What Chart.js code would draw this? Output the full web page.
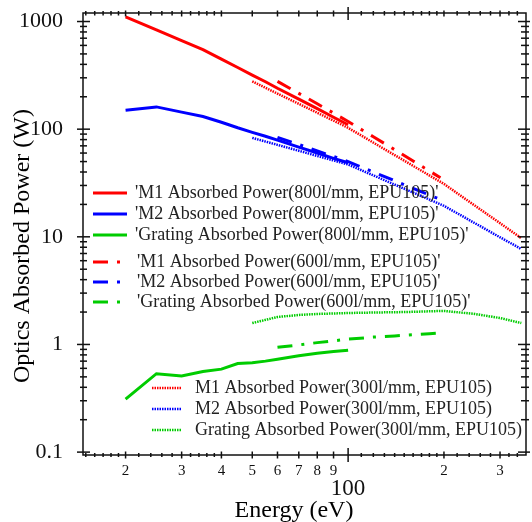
<!DOCTYPE html>
<html>
<head>
<meta charset="utf-8">
<script src="https://cdn.jsdelivr.net/npm/chart.js@4.4.1/dist/chart.umd.min.js"></script>
<style>
  html, body { margin: 0; padding: 0; background: #fff; }
  #wrap { width: 532px; height: 522px; position: relative; }
</style>
</head>
<body>
<div id="wrap"><canvas id="power-chart"></canvas></div>
<script>
// photon energies (eV) for each grating run
const energy800 = [20, 25, 30, 35, 40, 45, 50, 55, 60, 70, 80, 90, 100];
const energy600 = [60, 70, 80, 90, 100, 120, 140, 160, 180, 195];
const energy300 = [50, 60, 70, 80, 90, 100, 120, 150, 200, 250, 300, 350];

// absorbed power (W), 800 l/mm
const m1Power800 = [1106, 837, 666, 549, 447, 374, 318, 276, 240, 190, 155, 129, 110];
const m2Power800 = [150, 161, 144, 131, 116, 103, 93.5, 86, 79, 68, 60, 53.6, 48.8];
const gratingPower800 = [0.31, 0.535, 0.51, 0.56, 0.59, 0.665, 0.675, 0.70, 0.73, 0.785, 0.83, 0.86, 0.885];

// absorbed power (W), 600 l/mm
const m1Power600 = [278, 215, 172, 141, 118, 85, 64.5, 50.6, 40.9, 35.4];
const m2Power600 = [84, 72, 62.8, 55.8, 50, 40, 33.2, 28.2, 24.4, 22.2];
const gratingPower600 = [0.94, 0.99, 1.04, 1.08, 1.12, 1.17, 1.20, 1.23, 1.26, 1.28];

// absorbed power (W), 300 l/mm
const m1Power300 = [278, 214, 172, 142, 120, 103, 75, 51, 31, 19.5, 13.4, 9.7];
const m2Power300 = [83, 71.5, 63, 56.4, 51.2, 47, 37.2, 28, 19.4, 13.4, 9.9, 7.7];
const gratingPower300 = [1.58, 1.80, 1.88, 1.92, 1.94, 1.96, 1.98, 2.0, 2.05, 1.92, 1.76, 1.58];

// labelled axis ticks
const energyTicks = [20, 30, 40, 50, 60, 70, 80, 90, 100, 200, 300];
const powerTicks = [0.1, 1, 10, 100, 1000];

const SERIF = '"Liberation Serif", "Times New Roman", serif';
const RED = '#ff0000', BLUE = '#0000ff', GREEN = '#00cc00';
const SOLID = [], DASHDOT = [15, 9, 3, 9], DOTTED = [1.5, 1];

function pairs(xs, ys) {
    return xs.map((x, i) => ({ x, y: ys[i] }));
}

function series(label, xs, ys, color, dash, width) {
    return {
        label,
        data: pairs(xs, ys),
        borderColor: color,
        backgroundColor: color,
        borderDash: dash,
        borderWidth: width,
        borderCapStyle: 'butt',
        pointRadius: 0,
        tension: 0,
        fill: false
    };
}

const datasets = [
    series("'M1 Absorbed Power(800l/mm, EPU105)'", energy800, m1Power800, RED, SOLID, 3),
    series("'M2 Absorbed Power(800l/mm, EPU105)'", energy800, m2Power800, BLUE, SOLID, 3),
    series("'Grating Absorbed Power(800l/mm, EPU105)'", energy800, gratingPower800, GREEN, SOLID, 3),
    series("'M1 Absorbed Power(600l/mm, EPU105)'", energy600, m1Power600, RED, DASHDOT, 3),
    series("'M2 Absorbed Power(600l/mm, EPU105)'", energy600, m2Power600, BLUE, DASHDOT, 3),
    series("'Grating Absorbed Power(600l/mm, EPU105)'", energy600, gratingPower600, GREEN, DASHDOT, 3),
    series('M1 Absorbed Power(300l/mm, EPU105)', energy300, m1Power300, RED, DOTTED, 2.5),
    series('M2 Absorbed Power(300l/mm, EPU105)', energy300, m2Power300, BLUE, DOTTED, 2.5),
    series('Grating Absorbed Power(300l/mm, EPU105)', energy300, gratingPower300, GREEN, DOTTED, 2.5)
];

// minor tick positions on both axes
const energyMinor = [15, 16, 17, 18, 19, 22, 24, 26, 28, 32, 34, 36, 38,
    110, 120, 130, 140, 150, 160, 170, 180, 190, 220, 240, 260, 280, 320, 340];
const powerMinor = [];
[0.1, 1, 10, 100].forEach(d => {
    for (let k = 2; k <= 9; k++) powerMinor.push(d * k);
});

// boxed frame with ticks on all four sides, plus axis titles
const framePlugin = {
    id: 'frame',
    afterDraw(chart) {
        const { ctx, chartArea: a } = chart;
        const xs = chart.scales.x, ys = chart.scales.y;
        ctx.save();
        ctx.strokeStyle = '#111';
        ctx.lineWidth = 1.5;
        ctx.setLineDash([]);
        ctx.strokeRect(a.left, a.top, a.right - a.left, a.bottom - a.top);

        const seg = (x1, y1, x2, y2) => {
            ctx.beginPath();
            ctx.moveTo(x1, y1);
            ctx.lineTo(x2, y2);
            ctx.stroke();
        };

        energyMinor.forEach(v => {
            const px = xs.getPixelForValue(v);
            seg(px, a.bottom - 2, px, a.bottom + 2);
            seg(px, a.top - 2, px, a.top + 2.5);
        });
        energyTicks.forEach(v => {
            const px = xs.getPixelForValue(v);
            const h = v === 100 ? 7 : 3.5;
            seg(px, a.bottom - h, px, a.bottom + h);
            seg(px, a.top - h + 1, px, a.top + h);
        });

        powerMinor.forEach(v => {
            const py = ys.getPixelForValue(v);
            if (py < a.top || py > a.bottom) return;
            seg(a.left - 3, py, a.left + 4, py);
            seg(a.right - 5, py, a.right + 3, py);
        });
        powerTicks.forEach(v => {
            const py = ys.getPixelForValue(v);
            seg(a.left - 6, py, a.left + 7, py);
            seg(a.right - 8, py, a.right + 4, py);
        });

        ctx.fillStyle = '#000';
        ctx.font = '24px ' + SERIF;
        ctx.textAlign = 'center';
        ctx.textBaseline = 'alphabetic';
        ctx.fillText('Energy (eV)', 294, 517);

        ctx.translate(29, 246);
        ctx.rotate(-Math.PI / 2);
        ctx.fillText('Optics Absorbed Power (W)', 0, 0);
        ctx.restore();
    }
};

// three legend blocks drawn inside the plot
const legendGroups = [
    { first: 0, x1: 93, x2: 127, textX: 135, rows: [193, 214, 235] },
    { first: 3, x1: 93, x2: 121, textX: 137, rows: [262, 282, 302] },
    { first: 6, x1: 152, x2: 182, textX: 195, rows: [388, 409, 430] }
];

const legendPlugin = {
    id: 'groupLegend',
    afterDraw(chart) {
        const ctx = chart.ctx;
        ctx.save();
        ctx.font = '18px ' + SERIF;
        ctx.textBaseline = 'middle';
        ctx.textAlign = 'left';
        legendGroups.forEach(g => {
            g.rows.forEach((y, i) => {
                const ds = chart.data.datasets[g.first + i];
                ctx.strokeStyle = ds.borderColor;
                ctx.lineWidth = ds.borderWidth;
                ctx.lineCap = 'butt';
                ctx.setLineDash(ds.borderDash);
                ctx.beginPath();
                ctx.moveTo(g.x1, y);
                ctx.lineTo(g.x2, y);
                ctx.stroke();
                ctx.setLineDash([]);
                ctx.fillStyle = '#222';
                ctx.fillText(ds.label, g.textX, y);
            });
        });
        ctx.restore();
    }
};

function decadeLabel(v) {
    if (v === 100) return '100';
    const exp = Math.floor(Math.log10(v) + 1e-9);
    return String(Math.round(v / Math.pow(10, exp)));
}

new Chart(document.getElementById('power-chart').getContext('2d'), {
    type: 'line',
    data: { datasets },
    options: {
        responsive: true,
        maintainAspectRatio: false,
        animation: false,
        devicePixelRatio: 1,
        layout: { padding: { top: 13, right: 6, left: 0, bottom: 0 } },
        plugins: {
            legend: { display: false },
            tooltip: { enabled: false }
        },
        scales: {
            x: {
                type: 'logarithmic',
                bounds: 'data',
                min: 14.7,
                max: 362,
                afterBuildTicks: s => { s.ticks = energyTicks.map(v => ({ value: v })); },
                afterFit: s => {
                    s.height = 67;
                    s.paddingLeft = 0;
                    s.paddingRight = 0;
                },
                grid: { display: false, drawTicks: false, tickLength: 0 },
                border: { display: false },
                ticks: {
                    autoSkip: false,
                    maxRotation: 0,
                    padding: 7,
                    color: '#111',
                    font: c => (c.tick && c.tick.value === 100)
                        ? { family: SERIF, size: 23, lineHeight: 2.35 }
                        : { family: SERIF, size: 15 },
                    callback: v => decadeLabel(v)
                }
            },
            y: {
                type: 'logarithmic',
                bounds: 'data',
                min: 0.094,
                max: 1200,
                afterBuildTicks: s => { s.ticks = powerTicks.map(v => ({ value: v })); },
                afterFit: s => {
                    s.width = 83;
                    s.paddingTop = 0;
                    s.paddingBottom = 0;
                },
                grid: { display: false, drawTicks: false, tickLength: 0 },
                border: { display: false },
                ticks: {
                    padding: 20,
                    color: '#111',
                    font: { family: SERIF, size: 22 },
                    callback: v => String(v)
                }
            }
        }
    },
    plugins: [legendPlugin, framePlugin]
});
</script>
</body>
</html>
